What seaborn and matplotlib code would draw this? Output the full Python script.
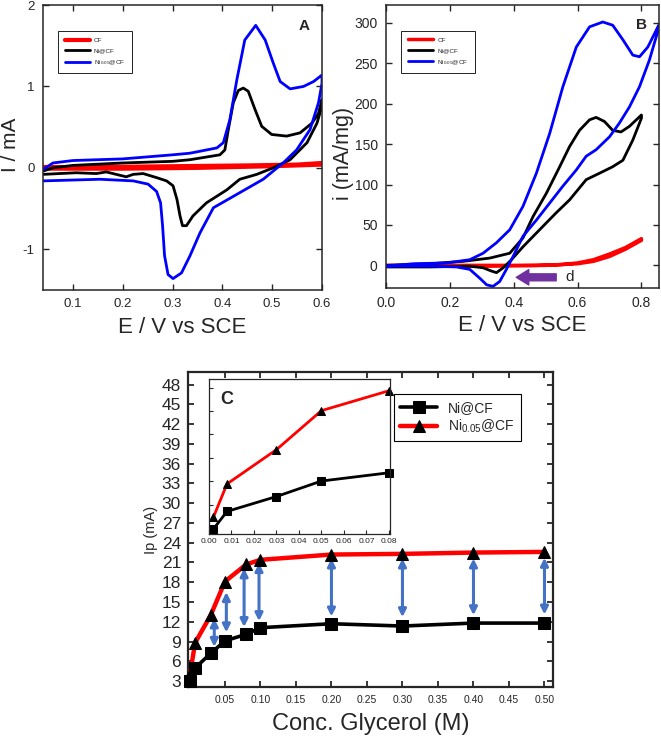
import numpy as np
import matplotlib
matplotlib.use('Agg')
import matplotlib.pyplot as plt
import seaborn as sns

# ---------------- panel A : CV, E (V vs SCE) and I (mA), points follow the loop
a_cf_E = [0.04, 0.15, 0.30, 0.45, 0.55, 0.60, 0.60, 0.50, 0.35, 0.20, 0.04]
a_cf_I = [0.01, 0.01, 0.02, 0.03, 0.04, 0.06, 0.04, 0.02, 0.00, -0.01, -0.01]

a_ni_E = [0.04, 0.06, 0.10, 0.20, 0.30, 0.335, 0.395, 0.405, 0.412, 0.422, 0.432, 0.442, 0.452,
          0.466, 0.479, 0.499, 0.529, 0.556, 0.58, 0.593, 0.60,
          0.60, 0.59, 0.57, 0.536, 0.502, 0.469, 0.435, 0.409, 0.368, 0.341, 0.328, 0.32, 0.315,
          0.309, 0.301, 0.288, 0.268, 0.241, 0.221, 0.207, 0.187, 0.167, 0.147, 0.107, 0.073, 0.04]
a_ni_I = [-0.04, 0.0, 0.03, 0.06, 0.08, 0.10, 0.16, 0.22, 0.47, 0.80, 0.95, 0.98, 0.94,
          0.71, 0.51, 0.41, 0.39, 0.43, 0.55, 0.67, 0.84,
          0.76, 0.55, 0.31, 0.10, 0.0, -0.08, -0.14, -0.27, -0.43, -0.59, -0.71, -0.71, -0.59,
          -0.39, -0.22, -0.16, -0.12, -0.07, -0.08, -0.11, -0.08, -0.05, -0.07, -0.06, -0.07, -0.08]

a_ni05_E = [0.04, 0.06, 0.10, 0.20, 0.30, 0.335, 0.389, 0.402, 0.415, 0.429, 0.445, 0.467, 0.486,
            0.502, 0.516, 0.536, 0.563, 0.583, 0.60,
            0.60, 0.593, 0.576, 0.549, 0.522, 0.502, 0.482, 0.422, 0.382, 0.355, 0.335, 0.318,
            0.301, 0.291, 0.284, 0.28, 0.276, 0.268, 0.251, 0.221, 0.154, 0.04]
a_ni05_I = [-0.02, 0.06, 0.09, 0.11, 0.16, 0.18, 0.245, 0.31, 0.59, 1.08, 1.57, 1.75, 1.57,
            1.29, 1.06, 0.97, 1.0, 1.06, 1.14,
            1.04, 0.80, 0.47, 0.22, 0.06, -0.04, -0.14, -0.35, -0.49, -0.80, -1.08, -1.29,
            -1.36, -1.31, -1.08, -0.71, -0.43, -0.29, -0.20, -0.16, -0.14, -0.16]

# ---------------- panel B : CV in glycerol, i (mA/mg)
b_cf_E = [0.0, 0.30, 0.47, 0.55, 0.60, 0.65, 0.70, 0.75, 0.80,
          0.80, 0.75, 0.70, 0.65, 0.60, 0.50, 0.30, 0.0]
b_cf_i = [0, 0, 0, 1, 3, 7, 14, 22, 33,
          31, 20, 11, 5, 2, 0, -1, -1]

b_ni_E = [0.0, 0.1375, 0.242, 0.325, 0.3875, 0.429, 0.46, 0.502, 0.544, 0.575, 0.606, 0.6375,
          0.658, 0.684, 0.71, 0.736, 0.7625, 0.80,
          0.80, 0.773, 0.742, 0.71, 0.669, 0.627, 0.575, 0.533, 0.481, 0.429, 0.393, 0.367,
          0.346, 0.33, 0.304, 0.2625, 0.1375, 0.0]
b_ni_i = [0, 2, 5, 9, 15, 34, 60, 89, 122, 147, 167, 180,
          183, 178, 167, 165, 172, 186,
          182, 155, 130, 122, 114, 106, 81, 65, 44, 23, 7, -3,
          -9, -7, -3, -1, -2, -2]

b_ni05_E = [0.0, 0.085, 0.19, 0.2625, 0.304, 0.346, 0.3875, 0.429, 0.471, 0.5125, 0.554, 0.596,
            0.6375, 0.679, 0.71, 0.742, 0.773, 0.794, 0.82, 0.854,
            0.854, 0.825, 0.794, 0.7625, 0.731, 0.70, 0.658, 0.627, 0.596, 0.554, 0.5125, 0.471,
            0.429, 0.398, 0.377, 0.356, 0.335, 0.315, 0.294, 0.2625, 0.221, 0.1375, 0.033, 0.0]
b_ni05_i = [-1, 2, 3, 7, 15, 28, 44, 73, 114, 163, 221, 270,
            295, 301, 297, 279, 260, 258, 270, 297,
            293, 254, 221, 196, 176, 159, 143, 135, 118, 98, 77, 56,
            36, 11, -5, -20, -26, -24, -16, -5, -2, -1, -1, -1]

# purple scan-direction arrow in B
d_arrow_E = [0.533, 0.408]
d_arrow_i = [-14.8, -14.8]
d_label_E = 0.575

# ---------------- panel C : peak current vs glycerol concentration
conc = [0.001, 0.008, 0.03, 0.05, 0.08, 0.10, 0.20, 0.30, 0.40, 0.50]
ip_ni = [3.0, 5.0, 7.2, 9.1, 10.1, 11.1, 11.7, 11.35, 11.8, 11.8]
ip_ni05 = [4.1, 8.8, 13.0, 18.1, 20.7, 21.4, 22.2, 22.3, 22.5, 22.6]

inset_conc = [0.002, 0.008, 0.03, 0.05, 0.08]
inset_ni = [25.98, 28.65, 30.93, 33.3, 34.56]
inset_ni05 = [27.8, 32.85, 38.1, 44.06, 47.1]

gap_x = [0.035, 0.052, 0.077, 0.098, 0.20, 0.30, 0.40, 0.50]
gap_low = [8.2, 10.4, 11.2, 12.1, 12.8, 12.7, 13.0, 13.1]
gap_high = [12.5, 16.5, 20.1, 20.9, 21.6, 21.6, 21.6, 21.7]

c_xticks = [0.05, 0.10, 0.15, 0.20, 0.25, 0.30, 0.35, 0.40, 0.45, 0.50]
c_yticks = list(range(3, 49, 3))
inset_xticks = [0.00, 0.01, 0.02, 0.03, 0.04, 0.05, 0.06, 0.07, 0.08]

sns.set_theme(style='ticks')
plt.rcParams['font.family'] = ['Liberation Sans', 'DejaVu Sans']
plt.rcParams['mathtext.default'] = 'regular'
plt.rcParams['axes.unicode_minus'] = False
plt.rcParams['xtick.direction'] = 'in'
plt.rcParams['ytick.direction'] = 'in'

fig = plt.figure(figsize=(6.61, 7.37), dpi=100)
W, H = 661, 737


def box(l, t, r, b):
    return [l / W, 1 - b / H, (r - l) / W, (b - t) / H]


labels = ['CF', 'Ni@CF', 'Ni$_{0.05}$@CF']
colors = ['#ff0000', 'black', '#0000ff']


def small_legend(ax, x0, y0):
    leg = ax.legend(loc='upper left', bbox_to_anchor=(x0, y0), fontsize=4.6, handlelength=4.0,
                    handletextpad=0.6, labelspacing=0.75, borderpad=1.0, fancybox=False,
                    edgecolor='black', framealpha=1)
    leg.get_frame().set_linewidth(0.6)


# ---- A
axA = fig.add_axes(box(43, 5, 322, 290))
for E, I, lab, col, lw in zip([a_cf_E, a_ni_E, a_ni05_E], [a_cf_I, a_ni_I, a_ni05_I],
                              labels, colors, [3.0, 2.0, 2.0]):
    sns.lineplot(x=E, y=I, sort=False, estimator=None, color=col, lw=lw, label=lab, ax=axA)
axA.set_xlim(0.04, 0.6)
axA.set_ylim(-1.5, 2.0)
axA.set_xticks([0.1, 0.2, 0.3, 0.4, 0.5, 0.6])
axA.set_yticks([-1, 0, 1, 2])
axA.set_xticklabels(['0.1', '0.2', '0.3', '0.4', '0.5', '0.6'])
axA.tick_params(top=True, right=True, labelsize=9.5, length=4, width=1, pad=6)
axA.set_xlabel('E / V vs SCE', fontsize=16)
axA.set_ylabel('I / mA', fontsize=15, va='center')
axA.xaxis.set_label_coords(0.5, -0.095)
axA.yaxis.set_label_coords(-0.118, 0.51)
axA.text(0.935, 0.925, 'A', transform=axA.transAxes, fontsize=11, fontweight='bold',
         ha='center', va='center')
small_legend(axA, 0.043, 0.92)

# ---- B
axB = fig.add_axes(box(386, 5, 659, 288))
for E, i, lab, col, lw in zip([b_cf_E, b_ni_E, b_ni05_E], [b_cf_i, b_ni_i, b_ni05_i],
                              labels, colors, [2.5, 2.0, 2.0]):
    sns.lineplot(x=E, y=i, sort=False, estimator=None, color=col, lw=lw, label=lab, ax=axB)
axB.set_xlim(0.0, 0.855)
axB.set_ylim(-28, 322)
axB.set_xticks([0.0, 0.2, 0.4, 0.6, 0.8])
axB.set_xticklabels(['0.0', '0.2', '0.4', '0.6', '0.8'])
axB.set_yticks([0, 50, 100, 150, 200, 250, 300])
axB.tick_params(top=True, right=True, labelsize=10, length=4, width=1, pad=6)
axB.set_xlabel('E / V vs SCE', fontsize=16)
axB.set_ylabel('i (mA/mg)', fontsize=15.5, va='center')
axB.xaxis.set_label_coords(0.5, -0.095)
axB.yaxis.set_label_coords(-0.156, 0.477)
axB.text(0.935, 0.93, 'B', transform=axB.transAxes, fontsize=11, fontweight='bold',
         ha='center', va='center')
small_legend(axB, 0.045, 0.92)
axB.annotate('', xy=(d_arrow_E[1], d_arrow_i[1]), xytext=(d_arrow_E[0], d_arrow_i[0]),
             arrowprops=dict(arrowstyle='simple,head_width=1.1,head_length=0.9,tail_width=0.5',
                             color='#7030A0', mutation_scale=10, shrinkA=0, shrinkB=0))
axB.text(d_label_E, d_arrow_i[0], 'd', fontsize=11, ha='center', va='center')

for ax in (axA, axB):
    for s in ax.spines.values():
        s.set_linewidth(1.1)

# ---- C
axC = fig.add_axes(box(188, 372, 553, 687))
for k in range(len(gap_x)):
    axC.annotate('', xy=(gap_x[k], gap_high[k]), xytext=(gap_x[k], gap_low[k]),
                 arrowprops=dict(arrowstyle='<|-|>', color='#4472C4', lw=2.2,
                                 mutation_scale=11, shrinkA=0, shrinkB=0))
sns.lineplot(x=conc, y=ip_ni05, color='#ff0000', lw=3.2, marker='^', markersize=9,
             markerfacecolor='black', markeredgecolor='black', label='Ni$_{0.05}$@CF',
             ax=axC, clip_on=False, zorder=4)
sns.lineplot(x=conc, y=ip_ni, color='black', lw=2.6, marker='s', markersize=8,
             markerfacecolor='black', markeredgecolor='black', label='Ni@CF',
             ax=axC, clip_on=False, zorder=5)
axC.set_xlim(-0.002, 0.512)
axC.set_ylim(2.1, 49.9)
axC.set_xticks(c_xticks)
axC.set_xticklabels(['%.2f' % v for v in c_xticks])
axC.set_yticks(c_yticks)
axC.tick_params(axis='x', top=True, labelsize=7.5, length=4, width=1.3, pad=6)
axC.tick_params(axis='y', right=True, labelsize=12.5, length=4, width=1.3, pad=5)
axC.set_xlabel('Conc. Glycerol (M)', fontsize=17)
axC.set_ylabel('Ip (mA)', fontsize=10.5)
axC.xaxis.set_label_coords(0.5, -0.117)
axC.yaxis.set_label_coords(-0.1, 0.498)
axC.xaxis.label.set_va('center')
axC.yaxis.label.set_va('center')
for s in axC.spines.values():
    s.set_linewidth(1.6)
h, l = axC.get_legend_handles_labels()
legC = axC.legend(h[::-1], l[::-1], loc='upper right', bbox_to_anchor=(0.93, 0.951),
                  fontsize=10, handlelength=2.6, fancybox=False, edgecolor='black',
                  framealpha=1, borderpad=0.45, labelspacing=0.2)
legC.get_frame().set_linewidth(0.8)

axI = fig.add_axes(box(209, 379, 390, 534))
sns.lineplot(x=inset_conc, y=inset_ni05, color='#ff0000', lw=2.0, marker='^', markersize=6,
             markerfacecolor='black', markeredgecolor='black', ax=axI, clip_on=False)
sns.lineplot(x=inset_conc, y=inset_ni, color='black', lw=2.0, marker='s', markersize=6,
             markerfacecolor='black', markeredgecolor='black', ax=axI, clip_on=False)
axI.set_xlim(0.0, 0.0805)
axI.set_ylim(25.2, 48.9)
axI.set_xticks(inset_xticks)
axI.set_xticklabels(['%.2f' % v for v in inset_xticks])
axI.set_yticks(np.linspace(26.1, 47.6, 7))
axI.set_yticklabels([])
axI.tick_params(labelsize=6, length=3, width=0.8, pad=3)
for s in axI.spines.values():
    s.set_linewidth(0.9)
axI.text(0.1, 0.87, 'C', transform=axI.transAxes, fontsize=13, fontweight='bold',
         ha='center', va='center')

fig.savefig('out.png', dpi=100)
